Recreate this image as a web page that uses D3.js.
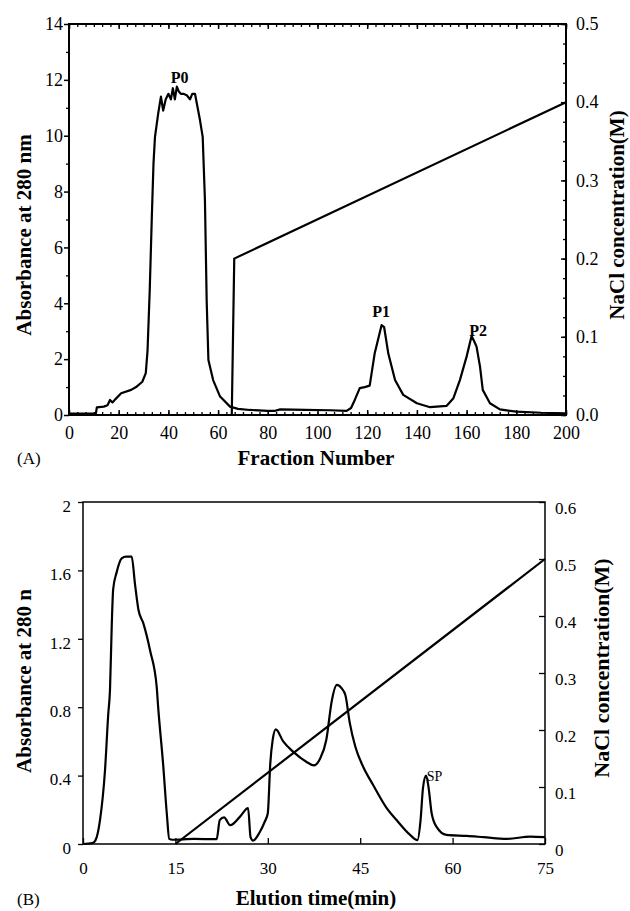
<!DOCTYPE html>
<html><head><meta charset="utf-8">
<script src="https://cdn.jsdelivr.net/npm/d3@7"></script>
<style>
body{margin:0;background:#fff;}
svg text{font-family:"Liberation Serif","Times New Roman",serif;fill:#000;}
</style></head>
<body><svg id="c" width="630" height="911"></svg>
<script>
// ---------- Panel A data ----------
const fractionA = [0,5,10,10.8,11.2,14,15.5,16.5,17.5,18.5,21,25,27,29.5,30.9,31.6,32.5,33.3,34.0,34.6,35.9,37,37.9,38.9,40,41,41.8,42.6,43.4,44.2,45,46,47.4,48.7,49.6,50.7,52.7,53.8,54.7,55.4,56.1,58,60.8,64.8,68,72.8,80,83,85,95,105,111.7,113.5,115,117,119,121,123,125.8,126.8,128.5,131.2,134.5,140,145.3,152,154.7,157.3,160,162,163,164,165.4,166.5,169.4,173.4,180,190,200];
const absorbanceA = [0.05,0.05,0.05,0.05,0.27,0.3,0.35,0.54,0.45,0.55,0.78,0.9,1.0,1.19,1.5,2.3,4.5,7.0,9.0,9.96,10.8,11.4,10.9,11.3,11.5,11.3,11.7,11.3,11.76,11.58,11.5,11.5,11.45,11.3,11.5,11.5,10.56,9.96,7.7,4.1,1.97,1.25,0.66,0.3,0.22,0.18,0.15,0.15,0.2,0.18,0.17,0.15,0.25,0.54,0.96,1.0,1.05,2.2,3.22,3.15,2.2,1.25,0.72,0.42,0.28,0.33,0.6,1.25,2.09,2.83,2.65,2.45,1.73,0.9,0.42,0.2,0.12,0.08,0.06];
const naclFractionA = [0,65.5,66.5,200];
const naclA = [0,0,0.2,0.4];
const xTicksA = [0,20,40,60,80,100,120,140,160,180,200];
const yTicksA = [0,2,4,6,8,10,12,14];
const y2TicksA = [0,0.1,0.2,0.3,0.4,0.5];
const peakLabelsA = ["P0","P1","P2"];
const peakPosA = [[44.5,11.9],[125.6,3.5],[164.6,2.83]];

// ---------- Panel B data ----------
const timeB = [0,1.5,2.0,2.76,3.57,4.1,4.38,4.66,4.9,5.47,6.28,7.0,7.9,8.44,9.0,9.8,10.9,11.96,12.2,13.0,13.6,14.0,14.5,18,21.7,22.2,22.9,23.9,25.5,26.8,27.2,27.6,28.7,29.5,30.0,30.4,30.8,31.3,32.5,34.1,36.3,37.5,38.5,39.5,40.4,41.2,42.0,42.6,43.3,44.2,45.5,47.1,49.3,50.9,53.1,54.3,54.8,55.2,55.7,56.1,56.6,57.4,59,62.3,65,68.8,72.6,75];
const absorbanceB = [0,0.005,0.02,0.14,0.43,0.76,0.9,1.27,1.49,1.59,1.67,1.68,1.68,1.52,1.37,1.29,1.13,0.92,0.8,0.47,0.18,0.03,0.025,0.03,0.028,0.14,0.156,0.11,0.16,0.21,0.04,0.02,0.07,0.13,0.18,0.47,0.61,0.67,0.6,0.54,0.48,0.46,0.5,0.61,0.84,0.93,0.91,0.87,0.71,0.57,0.45,0.345,0.21,0.14,0.053,0.023,0.14,0.33,0.4,0.33,0.18,0.1,0.053,0.047,0.04,0.03,0.043,0.04];
const naclTimeB = [15,75];
const naclB = [0,0.5];
const xTicksB = [0,15,30,45,60,75];
const yTicksB = [0,0.4,0.8,1.2,1.6,2];
const y2TicksB = [0,0.1,0.2,0.3,0.4,0.5,0.6];

const svg = d3.select("#c");

function styleAxis(g, sw, fs){
  g.select(".domain").remove();
  g.selectAll("line").attr("stroke","#000").attr("stroke-width",sw);
  g.selectAll("text").attr("font-size",fs).style("font-family",'"Liberation Serif","Times New Roman",serif');
}

// ================= Panel A =================
{
  const L=69,R=566,T=24,B=415;
  const x = d3.scaleLinear().domain([0,200]).range([L,R]);
  const y = d3.scaleLinear().domain([0,14]).range([B,T]);
  const y2 = d3.scaleLinear().domain([0,0.5]).range([B,T]);
  const minorX = d3.range(0,200.001,20/6);
  const fs=18;

  svg.append("g").attr("transform",`translate(0,${B})`)
    .call(d3.axisBottom(x).tickValues(minorX).tickSize(-3).tickFormat(""))
    .call(g=>styleAxis(g,1.3,fs));
  svg.append("g").attr("transform",`translate(0,${T})`)
    .call(d3.axisTop(x).tickValues(minorX).tickSize(-3).tickFormat(""))
    .call(g=>styleAxis(g,1.3,fs));
  svg.append("g").attr("transform",`translate(0,${T})`)
    .call(d3.axisTop(x).tickValues(xTicksA).tickSize(-5).tickFormat(""))
    .call(g=>styleAxis(g,1.5,fs));
  svg.append("g").attr("transform",`translate(0,${B})`)
    .call(d3.axisBottom(x).tickValues(xTicksA).tickSize(-5).tickPadding(11).tickFormat(d3.format("d")))
    .call(g=>styleAxis(g,1.5,fs));
  svg.append("g").attr("transform",`translate(${L},0)`)
    .call(d3.axisLeft(y).tickValues(d3.range(1,14,2)).tickSize(3).tickFormat(""))
    .call(g=>styleAxis(g,1.3,fs));
  svg.append("g").attr("transform",`translate(${L},0)`)
    .call(d3.axisLeft(y).tickValues(yTicksA).tickSize(5).tickPadding(1).tickFormat(d3.format("d")))
    .call(g=>styleAxis(g,1.5,fs));
  svg.append("g").attr("transform",`translate(${R},0)`)
    .call(d3.axisRight(y2).tickValues(d3.range(0,0.5001,0.025)).tickSize(-3).tickFormat(""))
    .call(g=>styleAxis(g,1.3,fs));
  svg.append("g").attr("transform",`translate(${R},0)`)
    .call(d3.axisRight(y2).tickValues(y2TicksA).tickSize(-5).tickPadding(10).tickFormat(d3.format(".1f")))
    .call(g=>styleAxis(g,1.5,fs));

  svg.append("rect").attr("x",L).attr("y",T).attr("width",R-L).attr("height",B-T)
    .attr("fill","none").attr("stroke","#000").attr("stroke-width",2);

  const absPts = fractionA.map((f,i)=>[x(f),y(absorbanceA[i])]);
  svg.append("path").attr("d",d3.line()(absPts)).attr("fill","none")
    .attr("stroke","#000").attr("stroke-width",2.2).attr("stroke-linejoin","round");
  const naclPts = naclFractionA.map((f,i)=>[x(f),y2(naclA[i])]);
  svg.append("path").attr("d",d3.line()(naclPts)).attr("fill","none")
    .attr("stroke","#000").attr("stroke-width",2.2);

  peakLabelsA.forEach((t,i)=>{
    svg.append("text").attr("x",x(peakPosA[i][0])).attr("y",y(peakPosA[i][1]))
      .attr("text-anchor","middle").attr("font-size",16).attr("font-weight","bold").text(t);
  });

  svg.append("text").attr("transform","translate(31,235) rotate(-90)")
    .attr("text-anchor","middle").attr("font-size",21).attr("font-weight","bold").text("Absorbance at 280 nm");
  svg.append("text").attr("transform","translate(624,215) rotate(-90)")
    .attr("text-anchor","middle").attr("font-size",21).attr("font-weight","bold").text("NaCl concentration(M)");
  svg.append("text").attr("x",316).attr("y",465).attr("text-anchor","middle")
    .attr("font-size",21).attr("font-weight","bold").text("Fraction Number");
  svg.append("text").attr("x",17).attr("y",464).attr("font-size",17).text("(A)");
}

// ================= Panel B =================
{
  const L=83,R=545,T=502,B=844;
  const x = d3.scaleLinear().domain([0,75]).range([L,R]);
  const y = d3.scaleLinear().domain([0,2]).range([B,T]);
  const y2 = d3.scaleLinear().domain([0,0.6]).range([B,T]);
  const fs=17;

  svg.append("g").attr("transform",`translate(0,${B})`)
    .call(d3.axisBottom(x).tickValues(xTicksB).tickSize(-6).tickPadding(18).tickFormat(d3.format("d")))
    .call(g=>styleAxis(g,1.3,fs));
  svg.append("g").attr("transform",`translate(${L},0)`)
    .call(d3.axisLeft(y).tickValues(yTicksB).tickSize(5).tickPadding(7).tickFormat(d=>d===0||d===2?d3.format("d")(d):d3.format(".1f")(d)))
    .call(g=>{styleAxis(g,1.3,fs); g.selectAll("text").attr("dy","0.55em");});
  svg.append("g").attr("transform",`translate(${R},0)`)
    .call(d3.axisRight(y2).tickValues(y2TicksB).tickSize(-6).tickPadding(10).tickFormat(d=>d===0?"0":d3.format(".1f")(d)))
    .call(g=>{styleAxis(g,1.3,fs); g.selectAll("text").attr("dy","0.7em");});

  svg.append("rect").attr("x",L).attr("y",T).attr("width",R-L).attr("height",B-T)
    .attr("fill","none").attr("stroke","#000").attr("stroke-width",1.5);

  const absPts = timeB.map((t,i)=>[x(t),y(absorbanceB[i])]);
  svg.append("path").attr("d",d3.line().curve(d3.curveMonotoneX)(absPts)).attr("fill","none")
    .attr("stroke","#000").attr("stroke-width",2.2).attr("stroke-linejoin","round");
  const naclPts = naclTimeB.map((t,i)=>[x(t),y2(naclB[i])]);
  svg.append("path").attr("d",d3.line()(naclPts)).attr("fill","none")
    .attr("stroke","#000").attr("stroke-width",2.2);

  svg.append("text").attr("x",x(55.8)).attr("y",y(0.37)).attr("font-size",14).text("SP");

  svg.append("text").attr("transform","translate(31,681) rotate(-90)")
    .attr("text-anchor","middle").attr("font-size",21).attr("font-weight","bold").text("Absorbance at 280 n");
  svg.append("text").attr("transform","translate(609,668) rotate(-90)")
    .attr("text-anchor","middle").attr("font-size",22).attr("font-weight","bold").text("NaCl concentration(M)");
  svg.append("text").attr("x",316).attr("y",905).attr("text-anchor","middle")
    .attr("font-size",21).attr("font-weight","bold").text("Elution time(min)");
  svg.append("text").attr("x",17).attr("y",905).attr("font-size",17).text("(B)");
}
</script></body></html>
